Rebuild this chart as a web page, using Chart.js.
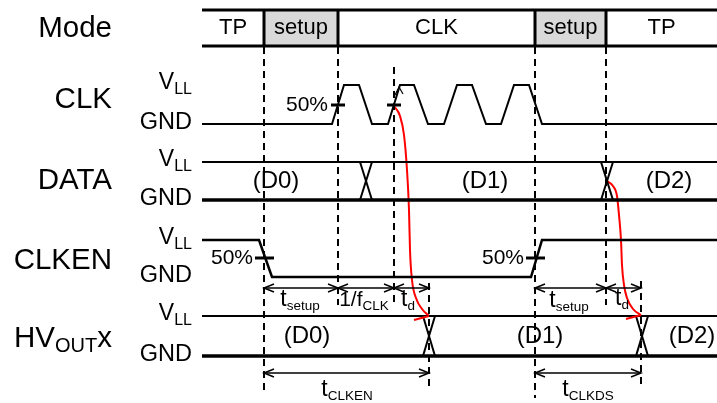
<!DOCTYPE html>
<html>
<head>
<meta charset="utf-8">
<script src="https://cdn.jsdelivr.net/npm/chart.js@4"></script>
<style>
  body { margin: 0; background: #fff; }
  #timing { display: block; }
</style>
</head>
<body>
<canvas id="timing" width="717" height="403"></canvas>
<script>
// === Данные диаграммы (x: время, y: уровень строки) ===
const rowLabels = ["Mode", "CLK", "DATA", "CLKEN", "HVOUTx"];
const rowLabelY = [29, 100, 181, 261, 339];
const levelVLL = [85, 162, 240, 316];   // CLK, DATA, CLKEN, HVOUTx
const levelGND = [124, 200, 277, 356];

const modeLabels = ["TP", "setup", "CLK", "setup", "TP"];
const modeBounds = [202, 264, 338, 535, 606, 717];
const modeShaded = [false, true, false, true, false];
const modeTop = 10, modeBottom = 46;

const clkX =     [202, 332, 344, 359, 372, 388, 400, 414, 428, 444, 457, 472, 486, 501, 514, 529, 542, 717];
const clkState = [0,   0,   1,   1,   0,   0,   1,   1,   0,   0,   1,   1,   0,   0,   1,   1,   0,   0];
const clkenX =     [202, 259, 272, 531, 542, 717];
const clkenState = [1,   1,   0,   0,   1,   1];

const dataCross = [366, 607];
const hvCross = [429, 642];
const dataWords = ["(D0)", "(D1)", "(D2)"];
const dataWordX = [276, 485, 669];
const hvWordX = [307, 540, 692];

const guideX =      [264, 338, 394, 429, 535, 606, 641];
const guideTop =    [47,  47,  67,  283, 47,  47,  281];
const guideBottom = [395, 305, 305, 390, 398, 305, 386];

const halfClkX = [338, 394];
const halfClkenX = [264, 535];
const halfClkY = 105, halfClkenY = 258;

// размерные стрелки: [от, до], подпись
const dimFrom = [264, 338, 394, 535, 606, 264, 535];
const dimTo =   [338, 394, 429, 606, 641, 429, 641];
const dimY =    [288, 288, 288, 288, 288, 373, 373];
const dimMain = ["t", "1/f", "t", "t", "t", "t", "t"];
const dimSub =  ["setup", "CLK", "d", "setup", "d", "CLKEN", "CLKDS"];
const dimTextX = [300, 364, 408, 569, 622, 347, 588];
const dimTextY = [300, 300, 300, 301, 299, 390, 390];

// красные стрелки задержки
const delay1X = [394, 400, 404, 407, 409, 410, 412, 416, 422, 429];
const delay1Y = [106, 116, 135, 170, 210, 250, 280, 298, 309, 316];
const delay2X = [607, 613, 617, 619, 621, 622, 624, 627, 633, 641];
const delay2Y = [181, 186, 196, 215, 240, 265, 285, 298, 309, 315];

// === Вспомогательные ===
const pts = (xs, ys) => xs.map((x, i) => ({ x: x, y: ys[i] }));
const lvl = (row, s) => (s ? levelVLL[row] : levelGND[row]);

function line(data, opts) {
  return Object.assign({
    data: data,
    borderColor: "#000",
    borderWidth: 2,
    pointRadius: 0,
    tension: 0,
    fill: false,
    spanGaps: false,
  }, opts || {});
}

const datasets = [];

// Mode
modeShaded.forEach((on, i) => {
  if (!on) return;
  datasets.push(line(pts([modeBounds[i], modeBounds[i + 1]], [modeTop, modeTop]),
    { borderWidth: 0, fill: { value: modeBottom }, backgroundColor: "#d9d9d9" }));
});
datasets.push(line(pts([202, 717], [modeTop, modeTop]), { borderWidth: 3 }));
datasets.push(line(pts([202, 717], [modeBottom, modeBottom]), { borderWidth: 3 }));
modeBounds.slice(1, -1).forEach(x => {
  datasets.push(line(pts([x, x], [modeTop, modeBottom]), { borderWidth: 3 }));
});

// пунктир
guideX.forEach((x, i) => {
  datasets.push(line(pts([x, x], [guideTop[i], guideBottom[i]]), { borderWidth: 2, borderDash: [7, 5] }));
});

// CLK и CLKEN
datasets.push(line(pts(clkX, clkState.map(s => lvl(0, s)))));
datasets.push(line(pts(clkenX, clkenState.map(s => lvl(2, s))), { borderWidth: 2.5 }));

// шины DATA и HVOUTx
[1, 3].forEach(row => {
  datasets.push(line(pts([202, 717], [levelVLL[row], levelVLL[row]]), { borderWidth: 2 }));
  datasets.push(line(pts([202, 717], [levelGND[row], levelGND[row]]), { borderWidth: 3.5 }));
});
function crosses(xs, row) {
  xs.forEach(x => {
    datasets.push(line(pts([x - 6, x + 6], [levelVLL[row], levelGND[row]]), { borderWidth: 2 }));
    datasets.push(line(pts([x + 6, x - 6], [levelVLL[row], levelGND[row]]), { borderWidth: 2 }));
  });
}
crosses(dataCross, 1);
crosses(hvCross, 3);

// отметки 50%
halfClkX.forEach(x => datasets.push(line(pts([x - 7, x + 7], [halfClkY, halfClkY]), { borderWidth: 3 })));
halfClkenX.forEach(x => datasets.push(line(pts([x - 9, x + 10], [halfClkenY, halfClkenY]), { borderWidth: 3 })));

// размерные линии
dimFrom.forEach((x, i) => {
  datasets.push(line(pts([x, dimTo[i]], [dimY[i], dimY[i]]), { borderWidth: 1.5, arrows: "both" }));
});

// задержки
datasets.push(line(pts(delay1X, delay1Y), { borderColor: "#ff0000", cubicInterpolationMode: "monotone", arrows: "redEnd" }));
datasets.push(line(pts(delay2X, delay2Y), { borderColor: "#ff0000", cubicInterpolationMode: "monotone", arrows: "redEnd" }));
datasets.push(line(pts([395, 399, 403], [95, 87, 94]), { borderWidth: 1.2 }));

// === Плагины: стрелки и текст ===
const arrowPlugin = {
  id: "arrowHeads",
  afterDatasetsDraw(chart) {
    const ctx = chart.ctx;
    chart.data.datasets.forEach((ds, i) => {
      if (!ds.arrows) return;
      const pnts = chart.getDatasetMeta(i).data;
      const head = (tip, from, len, half, color) => {
        const a = Math.atan2(tip.y - from.y, tip.x - from.x);
        ctx.save();
        ctx.strokeStyle = color;
        ctx.lineWidth = ds.borderWidth;
        ctx.beginPath();
        ctx.moveTo(tip.x - len * Math.cos(a) + half * Math.sin(a), tip.y - len * Math.sin(a) - half * Math.cos(a));
        ctx.lineTo(tip.x, tip.y);
        ctx.lineTo(tip.x - len * Math.cos(a) - half * Math.sin(a), tip.y - len * Math.sin(a) + half * Math.cos(a));
        ctx.stroke();
        ctx.restore();
      };
      const n = pnts.length;
      if (ds.arrows === "both") {
        head(pnts[0], pnts[1], 10, 4, ds.borderColor);
        head(pnts[n - 1], pnts[n - 2], 10, 4, ds.borderColor);
      } else if (ds.arrows === "redEnd") {
        const tip = pnts[n - 1];
        ctx.save();
        ctx.strokeStyle = ds.borderColor;
        ctx.lineWidth = 2;
        ctx.beginPath();
        ctx.moveTo(tip.x - 15, tip.y + 4);
        ctx.lineTo(tip.x, tip.y);
        ctx.stroke();
        ctx.restore();
      }
    });
  }
};

const FONT = "'Liberation Sans', Arial, sans-serif";

function rich(ctx, parts, x, y, align) {
  let w = 0;
  parts.forEach(p => { ctx.font = p.size + "px " + FONT; p.w = ctx.measureText(p.t).width; w += p.w; });
  let cx = align === "right" ? x - w : align === "center" ? x - w / 2 : x;
  ctx.textAlign = "left";
  ctx.textBaseline = "middle";
  ctx.fillStyle = "#000";
  parts.forEach(p => {
    ctx.font = p.size + "px " + FONT;
    ctx.fillText(p.t, cx, y + (p.dy || 0));
    cx += p.w;
  });
}

const textPlugin = {
  id: "diagramText",
  afterDatasetsDraw(chart) {
    const ctx = chart.ctx;
    const X = v => chart.scales.x.getPixelForValue(v);
    const Y = v => chart.scales.y.getPixelForValue(v);
    ctx.save();

    rowLabels.forEach((name, i) => {
      const parts = name === "HVOUTx"
        ? [{ t: "HV", size: 29.5 }, { t: "OUT", size: 20, dy: 7 }, { t: "x", size: 29.5 }]
        : [{ t: name, size: 29.5 }];
      rich(ctx, parts, X(112), Y(rowLabelY[i]), "right");
    });

    levelVLL.forEach((v, i) => {
      rich(ctx, [{ t: "V", size: 23 }, { t: "LL", size: 16, dy: 7 }], X(192), Y(v - 2), "right");
      rich(ctx, [{ t: "GND", size: 23.5 }], X(192), Y(levelGND[i] - 1), "right");
    });

    modeLabels.forEach((m, i) => {
      rich(ctx, [{ t: m, size: 22 }], X((modeBounds[i] + modeBounds[i + 1]) / 2), Y((modeTop + modeBottom) / 2), "center");
    });

    dataWords.forEach((w, i) => {
      rich(ctx, [{ t: w, size: 24 }], X(dataWordX[i]), Y((levelVLL[1] + levelGND[1]) / 2), "center");
      rich(ctx, [{ t: w, size: 24 }], X(hvWordX[i]), Y((levelVLL[3] + levelGND[3]) / 2), "center");
    });

    halfClkX.slice(0, 1).forEach(x => rich(ctx, [{ t: "50%", size: 21 }], X(x - 10), Y(halfClkY), "right"));
    halfClkenX.forEach(x => rich(ctx, [{ t: "50%", size: 21 }], X(x - 11), Y(halfClkenY), "right"));

    dimMain.forEach((m, i) => {
      rich(ctx, [{ t: m, size: m === "t" ? 23 : 21 }, { t: dimSub[i], size: 13.5, dy: 6 }], X(dimTextX[i]), Y(dimTextY[i]), "center");
    });

    ctx.restore();
  }
};

// === График ===
const ctx = document.getElementById("timing").getContext("2d");
const timingChart = new Chart(ctx, {
  type: "line",
  data: { datasets: datasets },
  options: {
    responsive: false,
    animation: false,
    devicePixelRatio: 1,
    layout: { padding: 0 },
    plugins: {
      legend: { display: false },
      tooltip: { enabled: false },
      filler: { drawTime: "beforeDraw" },
    },
    scales: {
      x: { type: "linear", min: 0, max: 717, display: false },
      y: { type: "linear", min: 0, max: 403, reverse: true, display: false },
    },
  },
  plugins: [arrowPlugin, textPlugin],
});
</script>
</body>
</html>
